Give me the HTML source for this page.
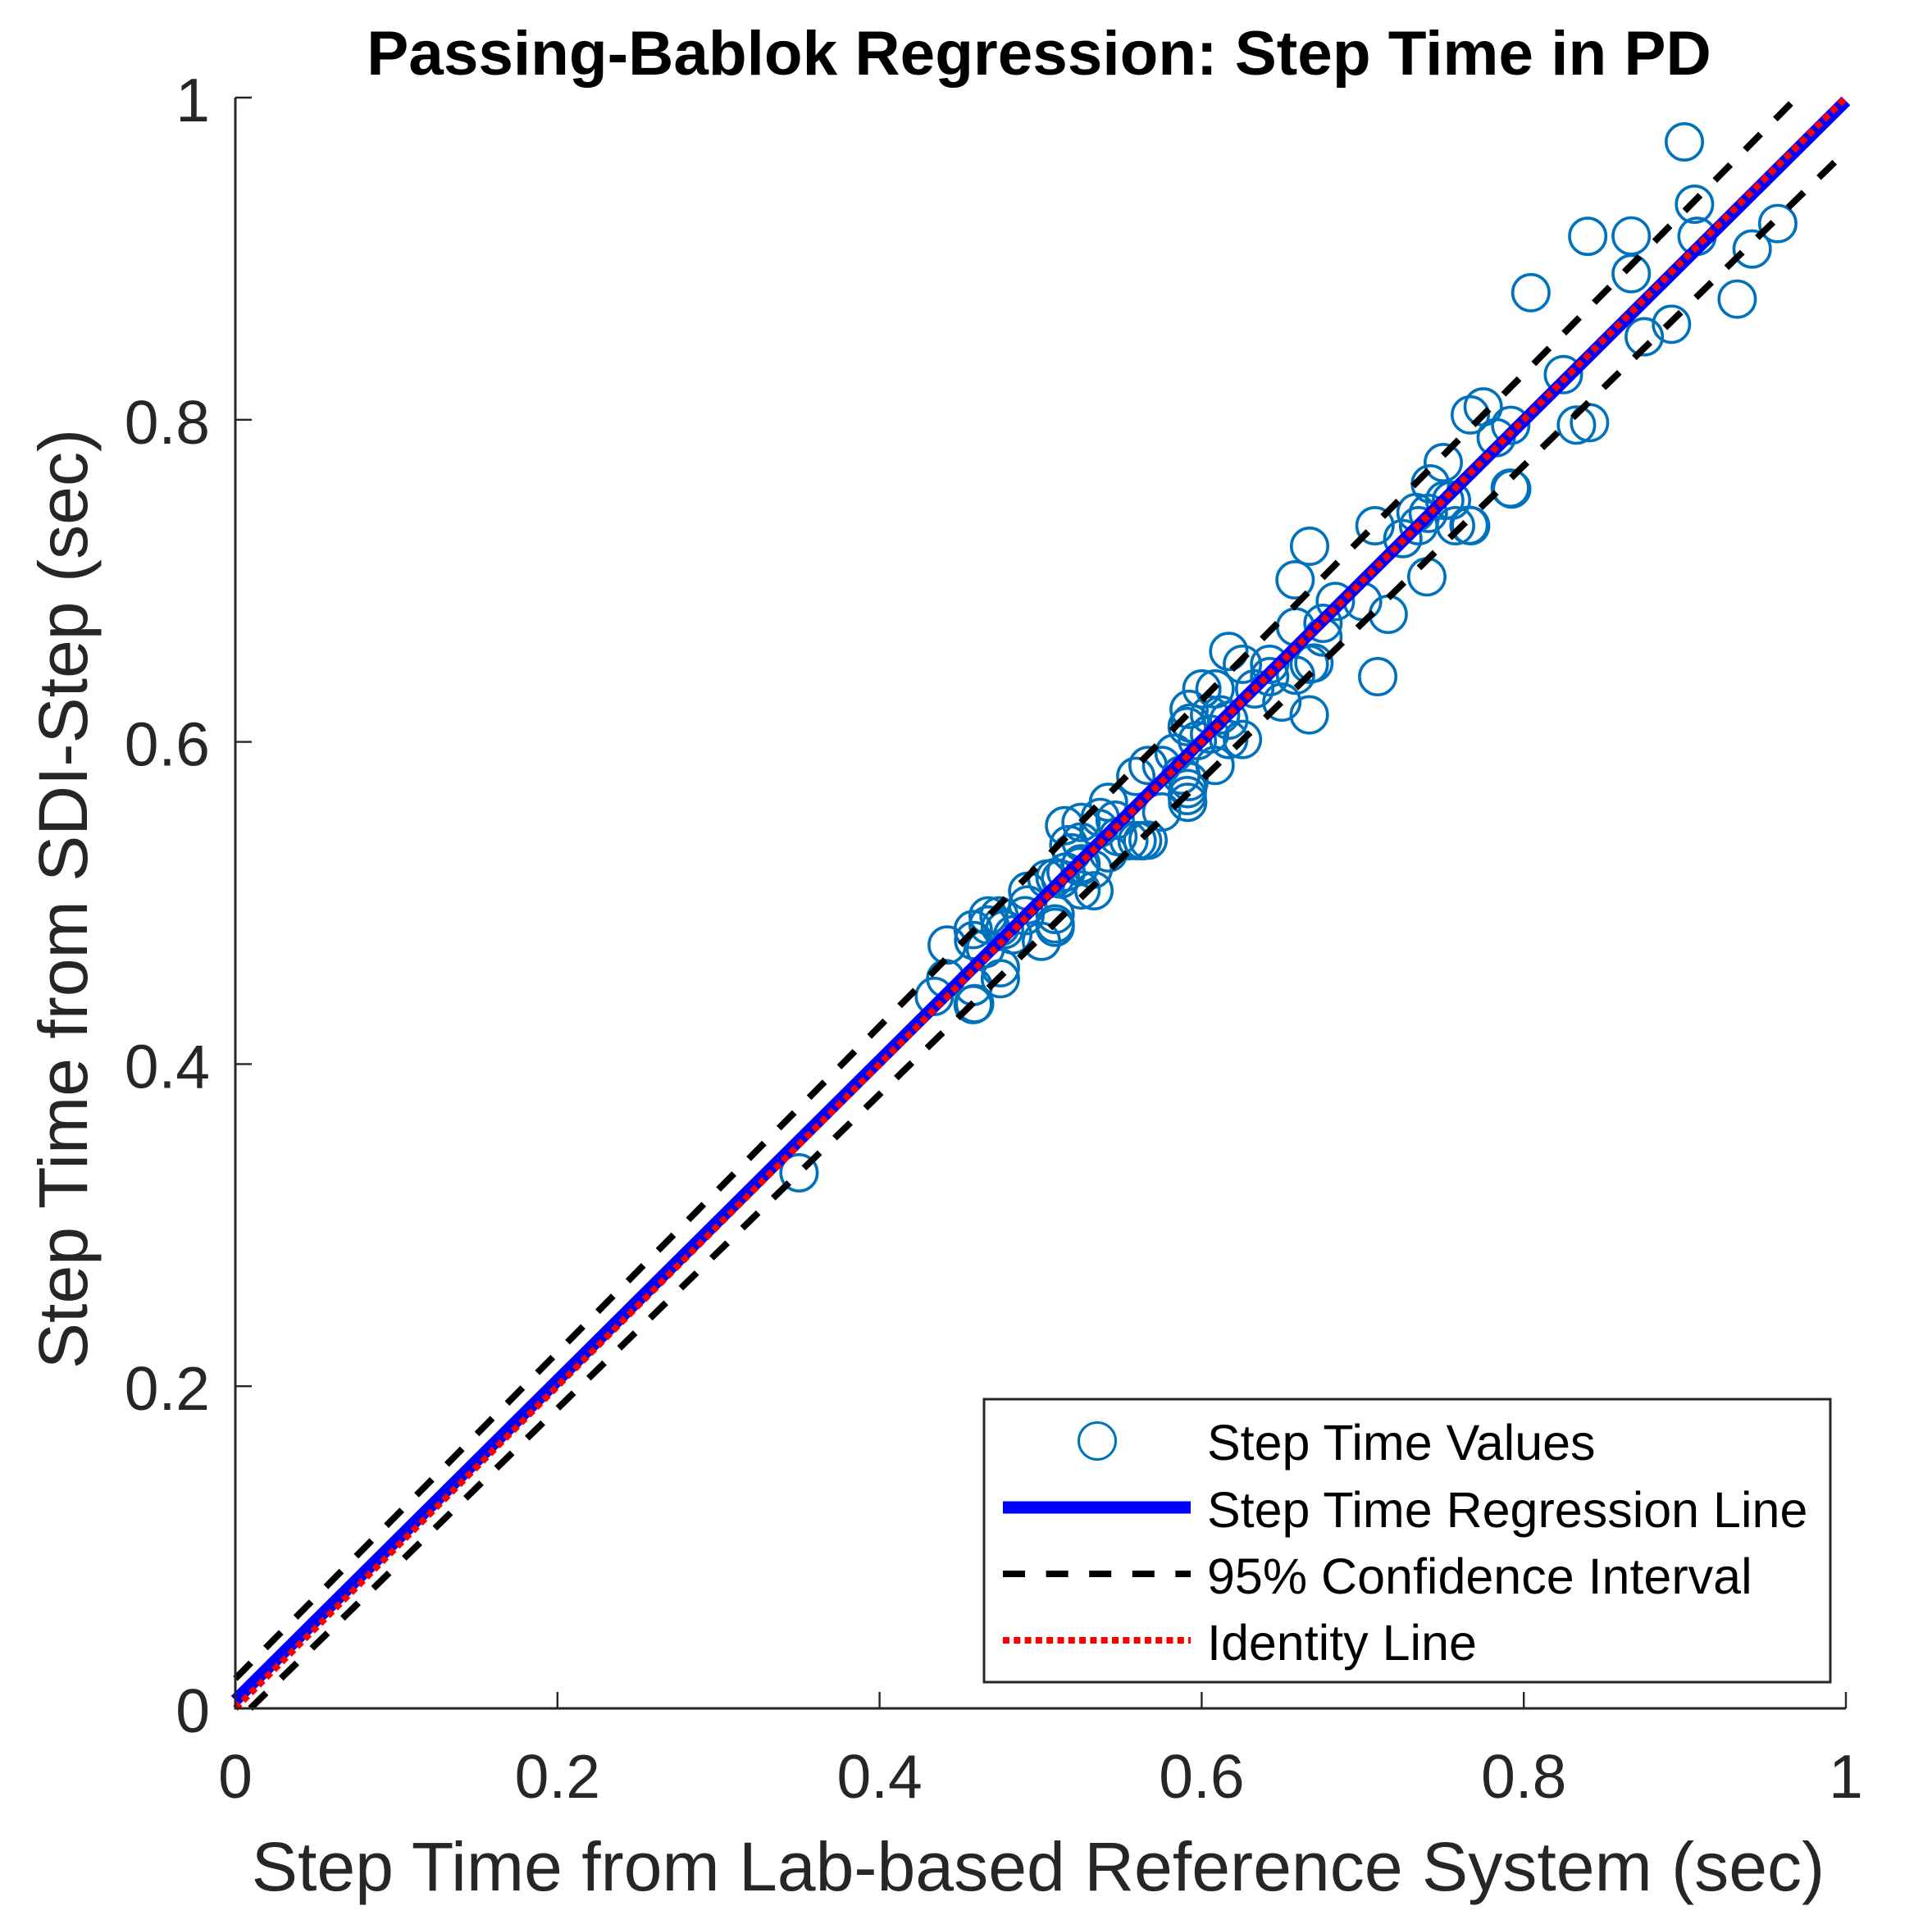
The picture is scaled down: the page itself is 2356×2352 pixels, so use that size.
<!DOCTYPE html>
<html lang="en">
<head>
<meta charset="utf-8">
<title>Passing-Bablok Regression: Step Time in PD</title>
<style>
html,body{margin:0;padding:0;background:#fff;}
svg{display:block;font-family:"Liberation Sans",sans-serif;}
</style>
</head>
<body>
<svg id="chart" xmlns="http://www.w3.org/2000/svg" width="2356" height="2352" viewBox="0 0 2356 2352">
  <rect x="0" y="0" width="2356" height="2352" fill="#fff"/>
  <g id="marks"></g>
  <g id="axes"></g>
  <text x="1267" y="91" text-anchor="middle" font-size="76.5" font-weight="bold" fill="#000">Passing-Bablok Regression: Step Time in PD</text>
  <text x="1266" y="2305" text-anchor="middle" font-size="84.2" fill="#262626">Step Time from Lab-based Reference System (sec)</text>
  <text transform="translate(106,1096) rotate(-90)" text-anchor="middle" font-size="84.2" fill="#262626">Step Time from SDI-Step (sec)</text>
  <g>
    <rect x="1200" y="1706" width="1032" height="345" fill="#fff" stroke="#262626" stroke-width="3"/>
    <circle cx="1338" cy="1757" r="22.5" fill="none" stroke="#0072BD" stroke-width="3"/>
    <line x1="1223" y1="1838" x2="1452" y2="1838" stroke="#0000FF" stroke-width="15"/>
    <line x1="1223" y1="1919" x2="1452" y2="1919" stroke="#000" stroke-width="8" stroke-dasharray="27 25.6"/>
    <line x1="1223" y1="2000" x2="1452" y2="2000" stroke="#FF0000" stroke-width="8" stroke-dasharray="8 5.3"/>
    <text x="1472" y="1780" font-size="61" fill="#000">Step Time Values</text>
    <text x="1472" y="1862" font-size="61" fill="#000">Step Time Regression Line</text>
    <text x="1472" y="1943" font-size="61" fill="#000">95% Confidence Interval</text>
    <text x="1472" y="2024" font-size="61" fill="#000">Identity Line</text>
  </g>
</svg>
<script>
const pointsX = [
0.8997,0.906,0.9076,0.9577,0.9418,0.9325,0.8397,0.8667,0.8667,0.8044,0.8917,0.8748,0.8246,0.7748,0.7668,0.7919,0.7829,0.8327,0.8408,
0.75,0.742,0.7916,0.7925,0.7076,0.7331,0.7407,0.7509,0.7551,0.7576,0.767,0.766,0.7249,0.7347,0.7398,
0.7093,0.6753,0.6753,0.6697,0.6668,0.6583,0.6668,0.6498,0.6329,0.6422,0.6422,0.6168,0.6253,0.658,0.683,0.6999,0.7158,0.6583,0.667,
0.6001,0.6083,0.5922,0.593,0.591,0.6049,0.6117,0.6168,0.6253,0.6168,0.6083,0.5973,0.6049,0.5829,0.5667,0.5752,0.5591,0.5922,0.5913,0.5913,0.591,0.5752,0.5871,
0.5421,0.537,0.5251,0.5149,0.5667,0.5599,0.5548,0.548,0.5421,0.5175,0.5251,0.5362,0.5463,0.5251,0.5331,0.5251,0.5039,0.5124,0.5243,0.509,0.492,0.492,
0.5005,0.509,0.509,0.509,0.442,0.4411,0.434,0.4581,0.459,0.4581,0.475,0.475,0.4584,0.4581,0.4674,0.4742,0.4674,0.475,0.4657,0.4776,0.4903,0.4827,0.5633,0.5192,0.5158,0.5326,0.35
];
const pointsY = [
0.9725,0.9338,0.9139,0.9218,0.906,0.8749,0.9139,0.9141,0.8907,0.8789,0.8593,0.8515,0.828,0.808,0.803,0.7965,0.7889,0.7967,0.7982,
0.7734,0.7602,0.7576,0.757,0.7342,0.7424,0.7419,0.75,0.75,0.7342,0.7342,0.7345,0.7262,0.7342,0.7025,
0.6405,0.6651,0.6736,0.649,0.6482,0.6414,0.6168,0.6247,0.6329,0.6482,0.6405,0.6562,0.6482,0.7006,0.6872,0.6872,0.6792,0.6714,0.7215,
0.6329,0.6329,0.6202,0.6117,0.6095,0.6168,0.6168,0.6135,0.6015,0.6015,0.5854,0.6008,0.6049,0.593,0.5854,0.5854,0.5786,0.5754,0.571,0.5625,0.5667,0.5565,0.5794,
0.5625,0.5531,0.55,0.548,0.539,0.5387,0.5387,0.5413,0.5311,0.5362,0.5379,0.5463,0.5514,0.5243,0.5076,0.5081,0.5149,0.5149,0.5226,0.5158,0.5073,0.4988,
0.4762,0.4849,0.487,0.4929,0.4739,0.453,0.442,0.4369,0.4375,0.4482,0.453,0.4598,0.4767,0.4835,0.492,0.492,0.4863,0.4852,0.4717,0.4835,0.4921,0.4802,0.5387,0.5311,0.5192,0.5209,0.3325
];
const regressionX = [0, 1];
const regressionY = [0.005, 0.998];
const upperCiX = [0, 0.9694];
const upperCiY = [0.0185, 1];
const lowerCiX = [0.0093, 1];
const lowerCiY = [0, 0.9667];
const identityX = [0, 1];
const identityY = [0, 1];
const xTickValues = [0, 0.2, 0.4, 0.6, 0.8, 1];
const xTickLabels = ['0', '0.2', '0.4', '0.6', '0.8', '1'];
const yTickValues = [0, 0.2, 0.4, 0.6, 0.8, 1];
const yTickLabels = ['0', '0.2', '0.4', '0.6', '0.8', '1'];

const NS = 'http://www.w3.org/2000/svg';
const plotLeft = 287, plotRight = 2251, plotTop = 119, plotBottom = 2083;
function xScale(v) { return plotLeft + v * (plotRight - plotLeft); }
function yScale(v) { return plotBottom - v * (plotBottom - plotTop); }
const marks = document.getElementById('marks');
const axes = document.getElementById('axes');

function pathFrom(xs, ys) {
  const p = document.createElementNS(NS, 'polyline');
  p.setAttribute('points', xs.map(function (x, i) { return xScale(x).toFixed(2) + ',' + yScale(ys[i]).toFixed(2); }).join(' '));
  p.setAttribute('fill', 'none');
  return p;
}

pointsX.forEach(function (x, i) {
  const c = document.createElementNS(NS, 'circle');
  
  
  c.setAttribute('cx', xScale(x).toFixed(2));
  c.setAttribute('cy', yScale(pointsY[i]).toFixed(2));
  c.setAttribute('r', '22.2');
  c.setAttribute('fill', 'none');
  c.setAttribute('stroke', '#0072BD');
  c.setAttribute('stroke-width', '3.6');
  marks.appendChild(c);
});

const regLine = pathFrom(regressionX, regressionY);


regLine.setAttribute('stroke', '#0000FF');
regLine.setAttribute('stroke-width', '15');
marks.appendChild(regLine);

const upperLine = pathFrom(upperCiX, upperCiY);


upperLine.setAttribute('stroke', '#000');
upperLine.setAttribute('stroke-width', '8');
upperLine.setAttribute('stroke-dasharray', '27 25.4');
marks.appendChild(upperLine);

const lowerLine = pathFrom(lowerCiX, lowerCiY);


lowerLine.setAttribute('stroke', '#000');
lowerLine.setAttribute('stroke-width', '8');
lowerLine.setAttribute('stroke-dasharray', '27 25.4');
marks.appendChild(lowerLine);

const idLine = pathFrom(identityX, identityY);


idLine.setAttribute('stroke', '#FF0000');
idLine.setAttribute('stroke-width', '8');
idLine.setAttribute('stroke-dasharray', '8 5.3');
marks.appendChild(idLine);

const yAxisLine = document.createElementNS(NS, 'line');


yAxisLine.setAttribute('x1', plotLeft);
yAxisLine.setAttribute('y1', plotTop);
yAxisLine.setAttribute('x2', plotLeft);
yAxisLine.setAttribute('y2', plotBottom + 1.5);
yAxisLine.setAttribute('stroke', '#262626');
yAxisLine.setAttribute('stroke-width', '3');
axes.appendChild(yAxisLine);

const xAxisLine = document.createElementNS(NS, 'line');


xAxisLine.setAttribute('x1', plotLeft - 1.5);
xAxisLine.setAttribute('y1', plotBottom);
xAxisLine.setAttribute('x2', plotRight);
xAxisLine.setAttribute('y2', plotBottom);
xAxisLine.setAttribute('stroke', '#262626');
xAxisLine.setAttribute('stroke-width', '3');
axes.appendChild(xAxisLine);

xTickValues.forEach(function (v, i) {
  const t = document.createElementNS(NS, 'line');
  
  
  t.setAttribute('x1', xScale(v));
  t.setAttribute('x2', xScale(v));
  t.setAttribute('y1', plotBottom);
  t.setAttribute('y2', plotBottom - 20);
  t.setAttribute('stroke', '#262626');
  t.setAttribute('stroke-width', '2.4');
  axes.appendChild(t);
  const l = document.createElementNS(NS, 'text');
  
  
  l.setAttribute('x', xScale(v));
  l.setAttribute('y', 2192);
  l.setAttribute('text-anchor', 'middle');
  l.setAttribute('font-size', '75');
  l.setAttribute('fill', '#262626');
  l.textContent = xTickLabels[i];
  axes.appendChild(l);
});

yTickValues.forEach(function (v, i) {
  const t = document.createElementNS(NS, 'line');
  
  
  t.setAttribute('x1', plotLeft);
  t.setAttribute('x2', plotLeft + 20);
  t.setAttribute('y1', yScale(v));
  t.setAttribute('y2', yScale(v));
  t.setAttribute('stroke', '#262626');
  t.setAttribute('stroke-width', '2.4');
  axes.appendChild(t);
  const l = document.createElementNS(NS, 'text');
  
  
  l.setAttribute('x', 256);
  l.setAttribute('y', yScale(v) + 29);
  l.setAttribute('text-anchor', 'end');
  l.setAttribute('font-size', '75');
  l.setAttribute('fill', '#262626');
  l.textContent = yTickLabels[i];
  axes.appendChild(l);
});
</script>
</body>
</html>
